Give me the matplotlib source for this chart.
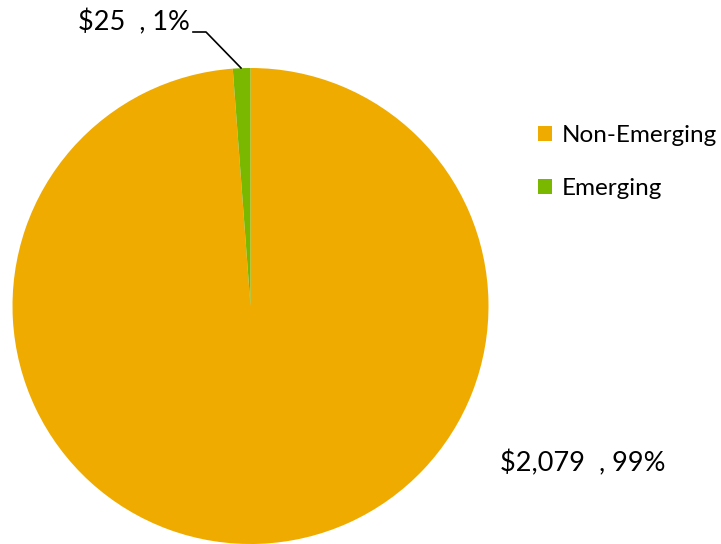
import matplotlib.pyplot as plt
from matplotlib.patches import Patch

labels = ['Non-Emerging', 'Emerging']
values = [2079, 25]
colors = ['#F0AB00', '#7AB800']
plt.rcParams['font.family'] = ['Lato', 'DejaVu Sans']

fig = plt.figure(figsize=(7.21, 5.44), dpi=100)
ax = fig.add_axes([12 / 721, 0, 477 / 721, 476 / 544])
ax.pie(values, colors=colors, startangle=90, counterclock=False,
       wedgeprops=dict(linewidth=0))
ax.set_xlim(-1, 1)
ax.set_ylim(-1, 1)
ax.set_aspect('equal')

total = sum(values)
# data labels
fig.text(500 / 721, 1 - 463 / 544, f'${values[0]:,}  , {round(values[0] / total * 100)}%',
         fontsize=19.5, va='center', ha='left')
fig.text(78 / 721, 1 - 22 / 544, f'${values[1]}  , {round(values[1] / total * 100)}%',
         fontsize=19.5, va='center', ha='left')
# leader line for small slice
fig.add_artist(plt.Line2D([193 / 721, 206 / 721, 241 / 721],
                          [1 - 32 / 544, 1 - 32 / 544, 1 - 68 / 544],
                          color='black', linewidth=1.2))

handles = [Patch(facecolor=c, edgecolor='none') for c in colors]
fig.legend(handles, labels, loc='upper left', bbox_to_anchor=(538 / 721, 1 - 125 / 544),
           frameon=False, fontsize=17.5, handlelength=0.58, handleheight=0.58,
           handletextpad=0.38, labelspacing=1.33, borderpad=0, borderaxespad=0)

fig.savefig('out.png', dpi=100)
